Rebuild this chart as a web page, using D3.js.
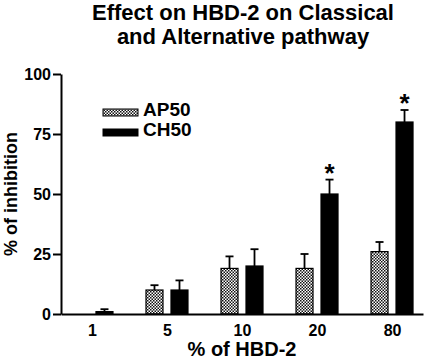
<!DOCTYPE html>
<html>
<head>
<meta charset="utf-8">
<script src="https://cdn.jsdelivr.net/npm/d3@7"></script>
<style>
  body { margin: 0; background: #fff; }
  svg { display: block; font-family: "Liberation Sans", Arial, sans-serif; font-weight: bold; }
</style>
</head>
<body>
<div id="chart"></div>
<script>
// Data
var categories = ["1", "5", "10", "20", "80"];
var series = ["AP50", "CH50"];
var ap50 = [0, 10, 19, 19, 26];
var ap50Err = [0, 2, 5, 6, 4];
var ch50 = [1, 10, 20, 50, 80];
var ch50Err = [1, 4, 7, 6, 5];
var starred = ["20", "80"]; // significant CH50 groups
var yTicks = [0, 25, 50, 75, 100];

var width = 424, height = 363;
var margin = { top: 74, right: 1, bottom: 49, left: 61 };

var svg = d3.select("#chart").append("svg")
  .attr("width", width)
  .attr("height", height);

// checker pattern for AP50
var defs = svg.append("defs");
var pat = defs.append("pattern")
  .attr("id", "checker")
  .attr("patternUnits", "userSpaceOnUse")
  .attr("width", 3)
  .attr("height", 3);
pat.append("rect").attr("width", 3).attr("height", 3).attr("fill", "#fff");
pat.append("rect").attr("x", 0).attr("y", 0).attr("width", 1.5).attr("height", 1.5).attr("fill", "#111");
pat.append("rect").attr("x", 1.5).attr("y", 1.5).attr("width", 1.5).attr("height", 1.5).attr("fill", "#111");

var x = d3.scalePoint()
  .domain(categories)
  .range([margin.left, width - margin.right])
  .padding(0.413);

var xSub = d3.scaleBand()
  .domain(series)
  .range([-21, 21])
  .paddingInner(0.32);

var y = d3.scaleLinear()
  .domain([0, 100])
  .range([height - margin.bottom, margin.top]);

// build rows
var rows = [];
categories.forEach(function(c, i) {
  rows.push({ cat: c, key: "AP50", value: ap50[i], err: ap50Err[i] });
  rows.push({ cat: c, key: "CH50", value: ch50[i], err: ch50Err[i] });
});
rows = rows.filter(function(d) { return d.value > 0; });

function fillFor(k) { return k === "AP50" ? "url(#checker)" : "#000"; }

// error bars (upper only)
var eb = svg.append("g").attr("stroke", "#000").attr("stroke-width", 1.8);
rows.forEach(function(d) {
  var cx = x(d.cat) + xSub(d.key) + xSub.bandwidth() / 2;
  eb.append("line")
    .attr("x1", cx).attr("x2", cx)
    .attr("y1", y(d.value)).attr("y2", y(d.value + d.err));
  eb.append("line")
    .attr("x1", cx - 4).attr("x2", cx + 4)
    .attr("y1", y(d.value + d.err)).attr("y2", y(d.value + d.err));
});

// bars
svg.append("g").selectAll("rect")
  .data(rows)
  .join("rect")
  .attr("x", function(d) { return x(d.cat) + xSub(d.key); })
  .attr("y", function(d) { return y(d.value); })
  .attr("width", xSub.bandwidth())
  .attr("height", function(d) { return y(0) - y(d.value); })
  .attr("fill", function(d) { return fillFor(d.key); })
  .attr("stroke", "#000")
  .attr("stroke-width", 1.2);

// significance stars
svg.append("g").selectAll("text")
  .data(rows.filter(function(d) { return d.key === "CH50" && starred.indexOf(d.cat) >= 0; }))
  .join("text")
  .attr("x", function(d) { return x(d.cat) + xSub(d.key) + xSub.bandwidth() / 2; })
  .attr("y", function(d) { return y(d.value + d.err) + 2; })
  .attr("text-anchor", "middle")
  .attr("font-size", 26)
  .text("*");

// y axis
var yAxis = svg.append("g")
  .attr("transform", "translate(" + margin.left + ",0)")
  .call(d3.axisLeft(y).tickValues(yTicks).tickSize(8).tickPadding(2).tickSizeOuter(0));
yAxis.select(".domain").attr("stroke-width", 2);
yAxis.selectAll(".tick line").attr("stroke-width", 2);
yAxis.selectAll("text").attr("font-size", 16).attr("font-weight", "bold").attr("font-family", "Liberation Sans, Arial, sans-serif");

// x axis
var xAxis = svg.append("g")
  .attr("transform", "translate(0," + y(0) + ")")
  .call(d3.axisBottom(x).tickSize(0).tickPadding(11));
xAxis.select(".domain").attr("stroke-width", 2);
xAxis.selectAll("text").attr("font-size", 16).attr("font-weight", "bold").attr("font-family", "Liberation Sans, Arial, sans-serif");

// axis titles
svg.append("text")
  .attr("x", 242)
  .attr("y", 356)
  .attr("text-anchor", "middle")
  .attr("font-size", 20)
  .text("% of HBD-2");

svg.append("text")
  .attr("transform", "translate(17," + ((y(0) + y(100)) / 2) + ") rotate(-90)")
  .attr("text-anchor", "middle")
  .attr("font-size", 18)
  .text("% of inhibition");

// title
svg.append("text")
  .attr("x", 243)
  .attr("y", 20)
  .attr("text-anchor", "middle")
  .attr("font-size", 22)
  .text("Effect on HBD-2 on Classical");
svg.append("text")
  .attr("x", 243)
  .attr("y", 44)
  .attr("text-anchor", "middle")
  .attr("font-size", 22)
  .text("and Alternative pathway");

// legend
var legend = svg.append("g");
series.forEach(function(s, i) {
  var ly = 109 + i * 20;
  legend.append("rect")
    .attr("x", 103).attr("y", ly)
    .attr("width", 35).attr("height", 7)
    .attr("fill", fillFor(s))
    .attr("stroke", "#000").attr("stroke-width", 1);
  legend.append("text")
    .attr("x", 143).attr("y", ly + 7)
    .attr("font-size", 19)
    .text(s);
});
</script>
</body>
</html>
